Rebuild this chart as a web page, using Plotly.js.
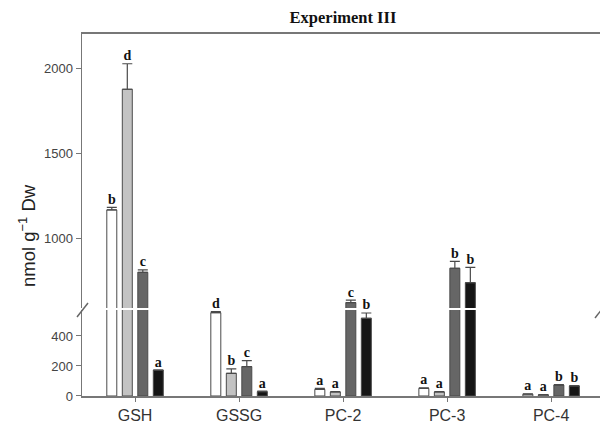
<!DOCTYPE html>
<html>
<head>
<meta charset="utf-8">
<script src="https://cdn.plot.ly/plotly-3.0.1.min.js"></script>
<style>html,body{margin:0;padding:0;background:#fff;}#chart{width:600px;height:425px;}</style>
</head>
<body>
<div id="chart"></div>
<script>
// ---- data ----
const categories = ['GSH', 'GSSG', 'PC-2', 'PC-3', 'PC-4'];
const seriesNames = ['Treatment 1', 'Treatment 2', 'Treatment 3', 'Treatment 4'];
const values1 = [1165, 555, 44, 51, 12];
const values2 = [1875, 151, 27, 27, 8];
const values3 = [798, 196, 620, 822, 73];
const values4 = [173, 29, 518, 737, 67];
const errors1 = [15, 8, 7, 4, 2];
const errors2 = [150, 30, 3, 3, 2];
const errors3 = [15, 40, 15, 40, 3];
const errors4 = [0, 3, 35, 90, 3];
const letters1 = ['b', 'd', 'a', 'a', 'a'];
const letters2 = ['d', 'b', 'a', 'a', 'a'];
const letters3 = ['c', 'c', 'c', 'b', 'b'];
const letters4 = ['a', 'a', 'b', 'b', 'b'];
const lowerTicks = [0, 200, 400];
const upperTicks = [1000, 1500, 2000];

// ---- styling ----
const fills = ['#ffffff', '#c3c3c3', '#666666', '#151515'];
const lowerRange = [0, 573];
const upperRange = [588, 2200];
const slot = 0.149, barW = 0.096;
const axisCol = '#777777';
const sans = 'Liberation Sans, Arial, sans-serif';
const serif = 'Liberation Serif, Times New Roman, serif';

const allValues = [values1, values2, values3, values4];
const allErrors = [errors1, errors2, errors3, errors4];
const allLetters = [letters1, letters2, letters3, letters4];
const xIdx = categories.map((c, i) => i);

const traces = [];
allValues.forEach((vals, k) => {
  const off = (k - 1.5) * slot - barW / 2;
  const errs = allErrors[k];
  const base = {
    type: 'bar', x: xIdx, y: vals, width: barW, offset: off, name: seriesNames[k],
    marker: {color: fills[k], line: {color: '#4a4a4a', width: 1}},
    showlegend: false, hoverinfo: 'y'
  };
  const errStyle = {type: 'data', symmetric: false, arrayminus: vals.map(() => 0),
                    color: '#4a4a4a', thickness: 1.2, width: 5};
  traces.push(Object.assign({}, base, {xaxis: 'x', yaxis: 'y',
    error_y: Object.assign({}, errStyle, {array: errs.map((e, i) => vals[i] + e <= lowerRange[1] ? e : 0)})}));
  traces.push(Object.assign({}, base, {xaxis: 'x2', yaxis: 'y2',
    error_y: Object.assign({}, errStyle, {array: errs})}));
  // significance letters, placed above each error bar
  const lowX = [], lowY = [], lowT = [], upX = [], upY = [], upT = [];
  vals.forEach((v, i) => {
    const top = v + errs[i];
    const xc = i + (k - 1.5) * slot;
    if (top <= lowerRange[1]) { lowX.push(xc); lowY.push(top); lowT.push(allLetters[k][i]); }
    else { upX.push(xc); upY.push(top); upT.push(allLetters[k][i]); }
  });
  const txt = {type: 'scatter', mode: 'text', textposition: 'top center', cliponaxis: false,
               textfont: {family: serif, size: 14, color: '#111', weight: 'bold'},
               showlegend: false, hoverinfo: 'skip'};
  if (lowX.length) traces.push(Object.assign({}, txt, {x: lowX, y: lowY, text: lowT, xaxis: 'x', yaxis: 'y'}));
  if (upX.length) traces.push(Object.assign({}, txt, {x: upX, y: upY, text: upT, xaxis: 'x2', yaxis: 'y2'}));
});

// pixel helpers for paper coords (plot area: x 82..600, y 34..396)
const px = p => (p - 82) / 518;
const py = p => 1 - (p - 34) / 362;

const layout = {
  width: 600, height: 425,
  margin: {l: 82, r: 0, t: 34, b: 29, pad: 0},
  paper_bgcolor: '#fff', plot_bgcolor: '#fff',
  barmode: 'overlay',
  title: {text: '<b>Experiment III</b>', font: {family: serif, size: 16.5, color: '#111'},
          x: px(343), xref: 'paper', xanchor: 'center', y: 1 - 17 / 425, yanchor: 'middle'},
  xaxis: {anchor: 'y', domain: [0, 1], range: [-0.51, 4.47], tickvals: xIdx, ticktext: categories,
          showline: true, linecolor: axisCol, linewidth: 1.5, ticks: 'outside', ticklen: 4,
          tickcolor: axisCol, tickfont: {family: sans, size: 16, color: '#333'}, zeroline: false,
          showgrid: false, fixedrange: true},
  xaxis2: {anchor: 'y2', domain: [0, 1], range: [-0.51, 4.47], side: 'top', showline: true,
           linecolor: axisCol, linewidth: 2, showticklabels: false, ticks: '', showgrid: false,
           zeroline: false},
  yaxis: {anchor: 'x', domain: [0, 0.2376], range: lowerRange, tickvals: lowerTicks,
          showline: true, linecolor: axisCol, linewidth: 1.5, ticks: 'outside', ticklen: 5,
          tickcolor: axisCol, tickfont: {family: sans, size: 13, color: '#444'},
          showgrid: false, zeroline: false},
  yaxis2: {anchor: 'x2', domain: [0.243, 1], range: upperRange, tickvals: upperTicks,
           showline: true, linecolor: axisCol, linewidth: 1.5, ticks: 'outside', ticklen: 5,
           tickcolor: axisCol, tickfont: {family: sans, size: 13, color: '#444'},
           showgrid: false, zeroline: false},
  annotations: [{
    text: 'nmol g<sup>\u22121</sup> Dw', xref: 'paper', yref: 'paper', x: px(27), y: py(236),
    textangle: -90, showarrow: false, xanchor: 'center', yanchor: 'middle',
    font: {family: sans, size: 18.5, color: '#222'}
  }],
  shapes: [
    {type: 'line', xref: 'paper', yref: 'paper', x0: px(77), y0: py(317), x1: px(88), y1: py(303),
     line: {color: '#666', width: 1.5}},
    {type: 'line', xref: 'paper', yref: 'paper', x0: px(595), y0: py(318), x1: px(606), y1: py(304),
     line: {color: '#666', width: 1.5}}
  ]
};

Plotly.newPlot('chart', traces, layout, {displayModeBar: false, staticPlot: true});
</script>
</body>
</html>
